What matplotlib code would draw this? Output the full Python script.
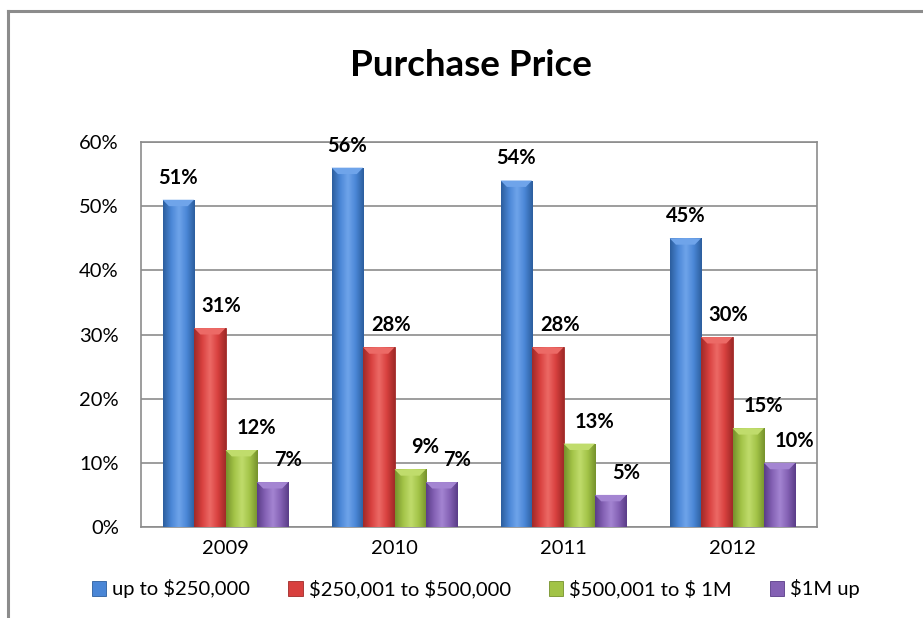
import numpy as np
import matplotlib
matplotlib.use("Agg")
import matplotlib.pyplot as plt
from matplotlib.patches import Patch
from matplotlib.colors import LinearSegmentedColormap
from matplotlib.lines import Line2D

plt.rcParams['font.family'] = ['Lato', 'DejaVu Sans']
plt.rcParams['text.parse_math'] = False

years = ["2009", "2010", "2011", "2012"]
series_names = ["up to $250,000", "$250,001 to $500,000", "$500,001 to $ 1M", "$1M up"]
up_to_250k = [51, 56, 54, 45]
from_250k_to_500k = [31, 28, 28, 29.6]
from_500k_to_1m = [12, 9, 13, 15.4]
over_1m = [7, 7, 5, 10]
value_labels = [["51%", "56%", "54%", "45%"],
                ["31%", "28%", "28%", "30%"],
                ["12%", "9%", "13%", "15%"],
                ["7%", "7%", "5%", "10%"]]
yticks = [0, 10, 20, 30, 40, 50, 60]

series = [up_to_250k, from_250k_to_500k, from_500k_to_1m, over_1m]
base_colors = ["#4A86D6", "#D8403E", "#A2C347", "#8461B4"]
edge_colors = ["#2C5E9E", "#A02A28", "#76922C", "#5A3D88"]
light_colors = ["#6FA4EA", "#EC6A66", "#C0DC6C", "#A485D2"]

W, H = 923, 618
fig = plt.figure(figsize=(W / 100, H / 100), dpi=100)
ax = fig.add_axes([141 / W, 1 - 527 / H, (817 - 141) / W, (527 - 142) / H])

n = len(series)
bw = 0.186
x = np.arange(len(years))
label_dx = [0.0, 0.07, 0.09, 0.09]  # in category units
for i, vals in enumerate(series):
    pos = x + (i - (n - 1) / 2) * bw
    bars = ax.bar(pos, vals, width=bw, color=base_colors[i], edgecolor=edge_colors[i],
                  linewidth=0.6, zorder=3)
    cmap = LinearSegmentedColormap.from_list(
        "g%d" % i, [edge_colors[i], base_colors[i], light_colors[i], base_colors[i], edge_colors[i]])
    grad = np.linspace(0, 1, 64).reshape(1, -1)
    for b, v in zip(bars, vals):
        x0 = b.get_x()
        im = ax.imshow(grad, cmap=cmap, aspect='auto', extent=[x0, x0 + bw, 0, v],
                       zorder=3.5, interpolation='bicubic')
        im.set_clip_path(b)
        # top bevel
        ax.fill([x0, x0 + bw, x0 + bw * 0.8, x0 + bw * 0.2],
                [v, v, v - 1.0, v - 1.0], color=light_colors[i], zorder=4, lw=0)
    for j, (p, v) in enumerate(zip(pos, vals)):
        ax.annotate(value_labels[i][j], (p + label_dx[i], v), xytext=(0, 22),
                    textcoords='offset pixels', ha='center', va='center',
                    fontsize=14.5, fontweight='bold', color='black', zorder=6)

ax.set_xlim(-0.5, len(years) - 0.5)
ax.set_ylim(0, 60)
ax.set_yticks(yticks)
ax.set_yticklabels(["%d%%" % t for t in yticks])
ax.set_xticks(x)
ax.set_xticklabels(years)
ax.tick_params(axis='both', length=0, labelsize=14.5, colors='black')
ax.tick_params(axis='y', pad=16)
ax.tick_params(axis='x', pad=9)
ax.yaxis.grid(True, color='#8C8C8C', linewidth=1.2, zorder=0)
ax.set_axisbelow(True)
for s in ax.spines.values():
    s.set_color('#8C8C8C')
    s.set_linewidth(1.2)

fig.text(471 / W, 1 - 65 / H, "Purchase Price", ha='center', va='center',
         fontsize=26.5, fontweight='bold')

handles = [Patch(facecolor=base_colors[i], edgecolor=edge_colors[i], linewidth=0.6)
           for i in range(n)]
fig.legend(handles, series_names, loc='center', bbox_to_anchor=(476 / W, 1 - 589 / H),
           ncol=4, frameon=False, fontsize=14.5, handlelength=0.7, handleheight=0.7,
           handletextpad=0.3, columnspacing=1.9)

# outer chart border
fig.add_artist(Line2D([8 / W, 8 / W], [0, 1 - 11 / H], color='#8C8C8C', lw=2.2,
                      transform=fig.transFigure))
fig.add_artist(Line2D([8 / W, 1], [1 - 11 / H, 1 - 11 / H], color='#8C8C8C', lw=2.2,
                      transform=fig.transFigure))

fig.savefig("out.png", dpi=100)
